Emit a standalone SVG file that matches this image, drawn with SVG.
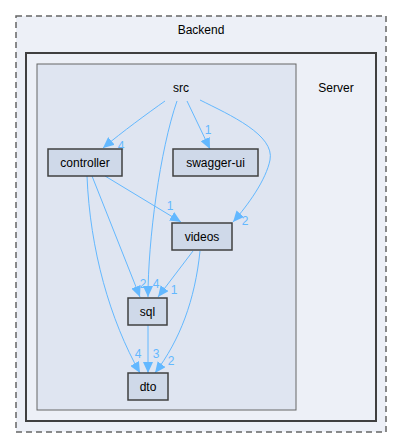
<svg xmlns="http://www.w3.org/2000/svg" width="403" height="448" viewBox="0 0 403 448">
<style>
text{font-family:"Liberation Sans",Arial,sans-serif;font-size:12px;fill:#000;text-anchor:middle}
.lbl{fill:#63b8ff;font-size:12px}
.node rect{fill:#cfd9e9;stroke:#404040;stroke-width:1.5}
.edge path{fill:none;stroke:#63b8ff;stroke-width:1}
</style>
<defs>
<marker id="ah" viewBox="0 0 11 10" refX="11" refY="5" markerWidth="11" markerHeight="10" markerUnits="userSpaceOnUse" orient="auto">
<polygon points="0,0 11,5 0,10" fill="#63b8ff"/>
</marker>
</defs>
<rect width="403" height="448" fill="#fff"/>
<g id="cluster-backend">
<rect x="16" y="16" width="370" height="416" fill="#edf0f7" stroke="#666" stroke-width="1.5" stroke-dasharray="6,4"/>
<text x="201" y="34">Backend</text>
</g>
<g id="cluster-server">
<rect x="26" y="53" width="350" height="368" fill="#edf0f7" stroke="#404040" stroke-width="2"/>
<text x="336" y="92">Server</text>
</g>
<g id="cluster-src">
<rect x="37" y="64" width="259" height="346" fill="#dfe5f1" stroke="#666" stroke-width="1"/>
<text x="181" y="92">src</text>
</g>
<g id="edges" class="edge">
<path d="M165,101 C148,113 122,132 103,148" marker-end="url(#ah)"/>
<path d="M177,101 C160,150 148,240 148,297" marker-end="url(#ah)"/>
<path d="M187,101 L210,149" marker-end="url(#ah)"/>
<path d="M200,100 C230,115 275,135 270,160 C266,180 248,205 233,222" marker-end="url(#ah)"/>
<path d="M105,176 L181,222" marker-end="url(#ah)"/>
<path d="M92,176 L140,297" marker-end="url(#ah)"/>
<path d="M87,176 C90,250 110,320 140,373" marker-end="url(#ah)"/>
<path d="M193,251 L158,297" marker-end="url(#ah)"/>
<path d="M200,251 C195,300 180,340 155,373" marker-end="url(#ah)"/>
<path d="M148,325 L148,373" marker-end="url(#ah)"/>
<text class="lbl" x="121" y="150">4</text>
<text class="lbl" x="156" y="288">4</text>
<text class="lbl" x="208" y="134">1</text>
<text class="lbl" x="245" y="225">2</text>
<text class="lbl" x="170" y="210">1</text>
<text class="lbl" x="143" y="288">2</text>
<text class="lbl" x="138" y="358">4</text>
<text class="lbl" x="174" y="294">1</text>
<text class="lbl" x="171" y="365">2</text>
<text class="lbl" x="156" y="358">3</text>
</g>
<g id="node-controller" class="node">
<rect x="48" y="149" width="74" height="27"/>
<text x="85" y="167">controller</text>
</g>
<g id="node-swagger-ui" class="node">
<rect x="173" y="149" width="85" height="27"/>
<text x="215.5" y="167">swagger-ui</text>
</g>
<g id="node-videos" class="node">
<rect x="172" y="223" width="60" height="27"/>
<text x="202" y="241">videos</text>
</g>
<g id="node-sql" class="node">
<rect x="128" y="298" width="39" height="27"/>
<text x="147.5" y="316">sql</text>
</g>
<g id="node-dto" class="node">
<rect x="128" y="373" width="40" height="27"/>
<text x="148" y="391">dto</text>
</g>
</svg>
